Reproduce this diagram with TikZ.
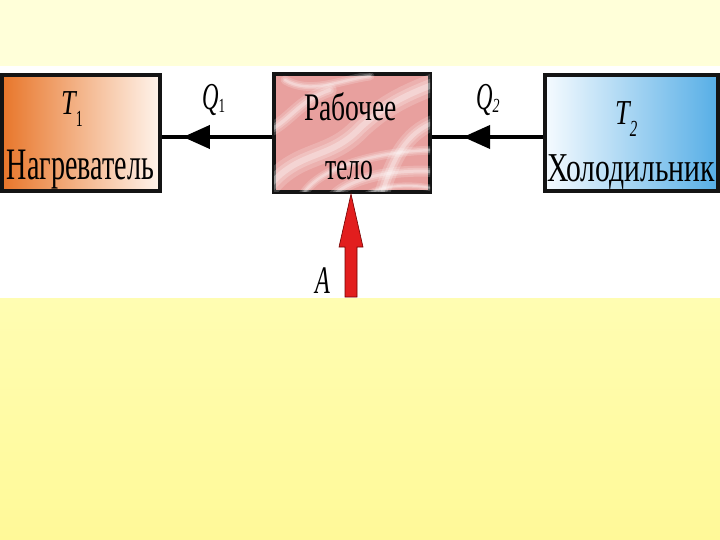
\documentclass[tikz,border=0pt]{standalone}
\usepackage{fontspec}
\setmainfont{Liberation Serif}
\usetikzlibrary{arrows.meta,decorations.markings}
\newcommand{\cw}[2]{\resizebox{#1}{\height}{#2}}
\newcommand{\cx}[2]{\scalebox{#1}[1]{#2}}
\newcommand{\softswirl}[2]{%
  \draw[swirl=0.18, line width=#1*2.2pt] #2;
  \draw[swirl=0.22, line width=#1*1.3pt] #2;
  \draw[swirl=0.3, line width=#1*0.6pt] #2;}
\definecolor{yellowtop}{RGB}{255,255,217}
\definecolor{yellowA}{RGB}{255,253,178}
\definecolor{yellowB}{RGB}{255,249,152}
\definecolor{heatL}{RGB}{232,118,42}
\definecolor{heatR}{RGB}{255,244,236}
\definecolor{coldL}{RGB}{246,251,255}
\definecolor{coldR}{RGB}{86,174,230}
\definecolor{marble}{RGB}{232,160,158}
\definecolor{redarrow}{RGB}{226,30,30}
\begin{document}
\begin{tikzpicture}[x=1pt,y=-1pt,
  box/.style={draw=black!92, line width=4pt, inner sep=0pt},
  conn/.style={draw=black, line width=4pt},
  lbl/.style={inner sep=0pt, anchor=base},
  swirl/.style={white, opacity=#1, line cap=round}]
% background
\useasboundingbox (0,0) rectangle (720,540);
\fill[yellowtop] (0,0) rectangle (720,66);
\fill[white] (0,66) rectangle (720,298);
\shade[top color=yellowA, bottom color=yellowB] (0,298) rectangle (720,540);
% boxes
\node[box, minimum width=158pt, minimum height=116pt, left color=heatL, right color=heatR] (heat) at (81,133) {};
\node[box, minimum width=156pt, minimum height=118pt, fill=marble] (mid) at (352,133) {};
\node[box, minimum width=173pt, minimum height=116pt, left color=coldL, right color=coldR] (cold) at (631.5,133) {};
% marble texture
\begin{scope}
\clip ([shift={(2pt,2pt)}]mid.south west) rectangle ([shift={(-2pt,-2pt)}]mid.north east);
\softswirl{10}{(270,185) .. controls (300,150) and (330,160) .. (360,128) .. controls (385,105) and (405,95) .. (440,82)}
\softswirl{4}{(300,200) .. controls (315,165) and (385,150) .. (440,150)}
\softswirl{5}{(330,200) .. controls (345,178) and (395,168) .. (440,172)}
\softswirl{3}{(360,200) .. controls (375,185) and (410,182) .. (440,190)}
\softswirl{6}{(270,130) .. controls (290,120) and (300,100) .. (330,90)}
\softswirl{7}{(380,200) .. controls (395,150) and (410,130) .. (440,120)}
\softswirl{4}{(285,80) .. controls (310,95) and (340,80) .. (370,76)}
\end{scope}
% connectors
\draw[conn, postaction={decorate}, decoration={markings, mark=at position 0.81 with {\arrow{Triangle[length=27pt,width=23pt]}}}] ([yshift=-4pt]mid.west) -- ([yshift=-4pt]heat.east);
\draw[conn, postaction={decorate}, decoration={markings, mark=at position 0.72 with {\arrow{Triangle[length=27pt,width=23pt]}}}] ([yshift=-4pt]cold.west) -- ([yshift=-4pt]mid.east);
\coordinate (atip) at ([xshift=-1pt]mid.south);
\draw[fill=redarrow, draw=red!45!black, line width=0.6pt] (atip) -- ++(12,53) -- ++(-6,0) -- ++(0,50) -- ++(-12,0) -- ++(0,-50) -- ++(-6,0) -- cycle;
% texts
\node[lbl] (rab) at (350.5,121) {\cw{93pt}{\fontsize{39}{40}\selectfont Рабочее}};
\node[lbl] (tel) at (349,180) {\cw{48pt}{\fontsize{39}{40}\selectfont тело}};
\node[lbl] (nag) at (80.5,180) {\cw{147pt}{\fontsize{45}{46}\selectfont Нагреватель}};
\node[lbl] (hol) at (631,182) {\cw{168pt}{\fontsize{41}{42}\selectfont Холодильник}};
\node[lbl, anchor=base west] (t1) at (61,115) {\cx{0.75}{\fontsize{35}{36}\selectfont\itshape T}\raisebox{-12pt}{\cx{0.6}{\fontsize{23}{23}\selectfont 1}}};
\node[lbl, anchor=base west] (t2) at (615,125) {\cx{0.75}{\fontsize{35}{36}\selectfont\itshape T}\raisebox{-12pt}{\cx{0.65}{\fontsize{23}{23}\selectfont\itshape 2}}};
\node[lbl, anchor=base west] (q1) at (202,110) {\cx{0.6}{\fontsize{38}{38}\selectfont\itshape Q}\raisebox{-3pt}{\cx{0.65}{\fontsize{20}{20}\selectfont 1}}};
\node[lbl, anchor=base west] (q2) at (476,110) {\cx{0.6}{\fontsize{38}{38}\selectfont\itshape Q}\raisebox{-3pt}{\cx{0.7}{\fontsize{20}{20}\selectfont\itshape 2}}};
\node[lbl, anchor=base west] (a) at (315,293) {\cx{0.62}{\fontsize{39}{40}\selectfont\itshape A}};
\end{tikzpicture}
\end{document}
